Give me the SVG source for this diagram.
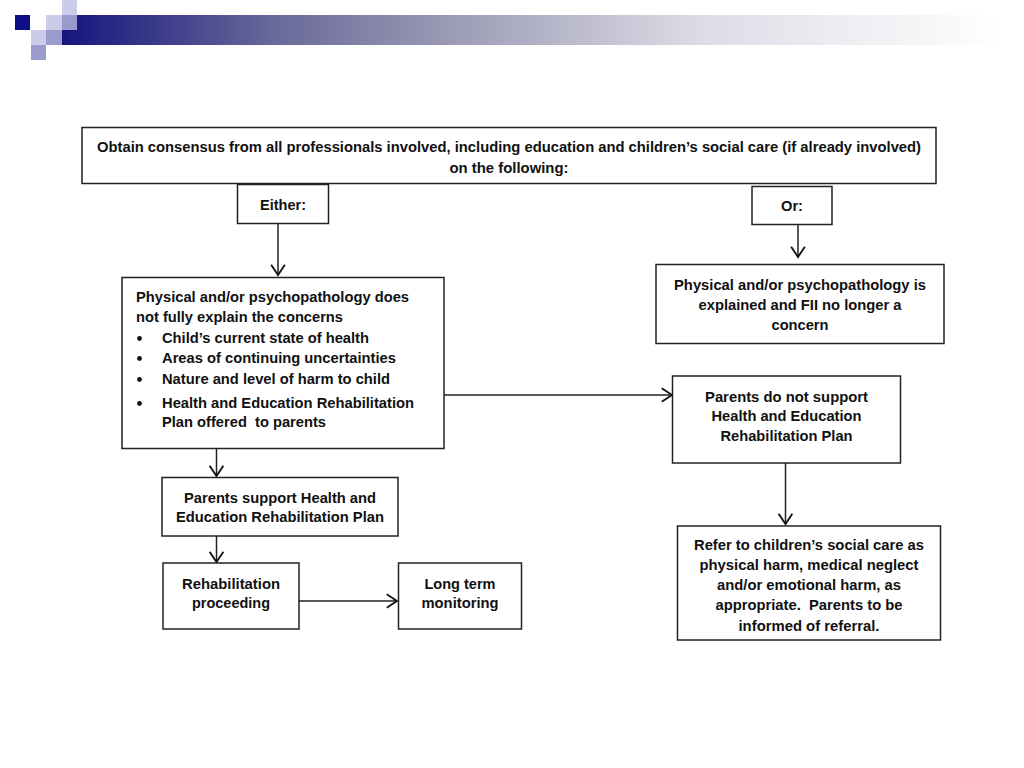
<svg xmlns="http://www.w3.org/2000/svg" width="1024" height="768" viewBox="0 0 1024 768">
<defs>
<linearGradient id="bar" x1="62" y1="0" x2="1000" y2="0" gradientUnits="userSpaceOnUse">
<stop offset="0" stop-color="#15157e"/>
<stop offset="0.23" stop-color="#6a6a9a"/>
<stop offset="0.42" stop-color="#9c9cb6"/>
<stop offset="0.68" stop-color="#dcdce6"/>
<stop offset="1" stop-color="#ffffff"/>
</linearGradient>
<marker id="arr" markerUnits="userSpaceOnUse" markerWidth="16" markerHeight="16" refX="10" refY="7" orient="auto" viewBox="0 0 14 14">
<path d="M1,1 L10,7 L1,13" fill="none" stroke="#111" stroke-width="1.6"/>
</marker>
<style>
.box{fill:#fff;stroke:#222;stroke-width:1.5}
.t{font-family:"Liberation Sans",Arial,sans-serif;font-weight:bold;font-size:14.6px;fill:#111}
.c{text-anchor:middle}
.ln{stroke:#222;stroke-width:1.5;fill:none;marker-end:url(#arr)}
</style>
</defs>
<g id="header">
<rect x="62" y="15" width="962" height="30" fill="url(#bar)"/>
<rect x="62" y="0" width="15" height="15" fill="#ccccea"/>
<rect x="15" y="15" width="15" height="15" fill="#0e0e86"/>
<rect x="46" y="15" width="16" height="15" fill="#ccccea"/>
<rect x="62" y="15" width="15" height="15" fill="#9a9acc"/>
<rect x="31" y="30" width="15" height="15" fill="#ccccea"/>
<rect x="46" y="30" width="16" height="15" fill="#9a9acc"/>
<rect x="31" y="45" width="15" height="15" fill="#9a9acc"/>
</g>
<g id="connectors">
<line class="ln" x1="278" y1="223" x2="278" y2="275"/>
<line class="ln" x1="798" y1="224" x2="798" y2="257"/>
<line class="ln" x1="444" y1="395" x2="672" y2="395"/>
<line class="ln" x1="785.5" y1="463" x2="785.5" y2="524"/>
<line class="ln" x1="216.5" y1="448" x2="216.5" y2="476"/>
<line class="ln" x1="216.5" y1="536" x2="216.5" y2="562"/>
<line class="ln" x1="299" y1="601" x2="397" y2="601"/>
</g>
<g id="n-consensus">
<rect class="box" x="82" y="127.5" width="854" height="56"/>
<text class="t c" x="509" y="152" textLength="824" lengthAdjust="spacingAndGlyphs">Obtain consensus from all professionals involved, including education and children’s social care (if already involved)</text>
<text class="t c" x="509" y="173" textLength="119" lengthAdjust="spacingAndGlyphs">on the following:</text>
</g>
<g id="n-either">
<rect class="box" x="237.5" y="184.5" width="91" height="39"/>
<text class="t c" x="283" y="210" textLength="46" lengthAdjust="spacingAndGlyphs">Either:</text>
</g>
<g id="n-or">
<rect class="box" x="752" y="186.5" width="80" height="38"/>
<text class="t c" x="792" y="211" textLength="22" lengthAdjust="spacingAndGlyphs">Or:</text>
</g>
<g id="n-explained">
<rect class="box" x="656" y="264.5" width="288" height="79"/>
<text class="t c" x="800" y="290" textLength="252" lengthAdjust="spacingAndGlyphs">Physical and/or psychopathology is</text>
<text class="t c" x="800" y="310" textLength="203" lengthAdjust="spacingAndGlyphs">explained and FII no longer a</text>
<text class="t c" x="800" y="330" textLength="57" lengthAdjust="spacingAndGlyphs">concern</text>
</g>
<g id="n-not-explained">
<rect class="box" x="122" y="277.5" width="322" height="171"/>
<text class="t" x="136" y="302" textLength="273" lengthAdjust="spacingAndGlyphs">Physical and/or psychopathology does</text>
<text class="t" x="136" y="322" textLength="207" lengthAdjust="spacingAndGlyphs">not fully explain the concerns</text>
<circle cx="139.5" cy="338.5" r="2.4" fill="#111"/>
<text class="t" x="162" y="343" textLength="207" lengthAdjust="spacingAndGlyphs">Child’s current state of health</text>
<circle cx="139.5" cy="358.5" r="2.4" fill="#111"/>
<text class="t" x="162" y="363" textLength="234" lengthAdjust="spacingAndGlyphs">Areas of continuing uncertainties</text>
<circle cx="139.5" cy="379.5" r="2.4" fill="#111"/>
<text class="t" x="162" y="384" textLength="228" lengthAdjust="spacingAndGlyphs">Nature and level of harm to child</text>
<circle cx="139.5" cy="403.5" r="2.4" fill="#111"/>
<text class="t" x="162" y="408" textLength="252" lengthAdjust="spacingAndGlyphs">Health and Education Rehabilitation</text>
<text class="t" x="162" y="427" textLength="164" lengthAdjust="spacingAndGlyphs" xml:space="preserve">Plan offered  to parents</text>
</g>
<g id="n-not-support">
<rect class="box" x="672.5" y="376" width="228" height="87"/>
<text class="t c" x="786.5" y="401.5" textLength="163" lengthAdjust="spacingAndGlyphs">Parents do not support</text>
<text class="t c" x="786.5" y="421" textLength="150" lengthAdjust="spacingAndGlyphs">Health and Education</text>
<text class="t c" x="786.5" y="441" textLength="132" lengthAdjust="spacingAndGlyphs">Rehabilitation Plan</text>
</g>
<g id="n-refer">
<rect class="box" x="677.5" y="526" width="263" height="114"/>
<text class="t c" x="809" y="549.5" textLength="230" lengthAdjust="spacingAndGlyphs">Refer to children’s social care as</text>
<text class="t c" x="809" y="570" textLength="219" lengthAdjust="spacingAndGlyphs">physical harm, medical neglect</text>
<text class="t c" x="809" y="590" textLength="184" lengthAdjust="spacingAndGlyphs">and/or emotional harm, as</text>
<text class="t c" x="809" y="610" textLength="187" lengthAdjust="spacingAndGlyphs" xml:space="preserve">appropriate.  Parents to be</text>
<text class="t c" x="809" y="630.5" textLength="141" lengthAdjust="spacingAndGlyphs">informed of referral.</text>
</g>
<g id="n-support">
<rect class="box" x="162" y="477.5" width="236" height="58.5"/>
<text class="t c" x="280" y="503" textLength="192" lengthAdjust="spacingAndGlyphs">Parents support Health and</text>
<text class="t c" x="280" y="521.5" textLength="208" lengthAdjust="spacingAndGlyphs">Education Rehabilitation Plan</text>
</g>
<g id="n-rehab">
<rect class="box" x="163" y="563" width="136" height="66"/>
<text class="t c" x="231" y="588.5" textLength="98" lengthAdjust="spacingAndGlyphs">Rehabilitation</text>
<text class="t c" x="231" y="608" textLength="78" lengthAdjust="spacingAndGlyphs">proceeding</text>
</g>
<g id="n-monitor">
<rect class="box" x="398.5" y="563" width="123" height="66"/>
<text class="t c" x="460" y="588.5" textLength="71" lengthAdjust="spacingAndGlyphs">Long term</text>
<text class="t c" x="460" y="608" textLength="77" lengthAdjust="spacingAndGlyphs">monitoring</text>
</g>
</svg>
